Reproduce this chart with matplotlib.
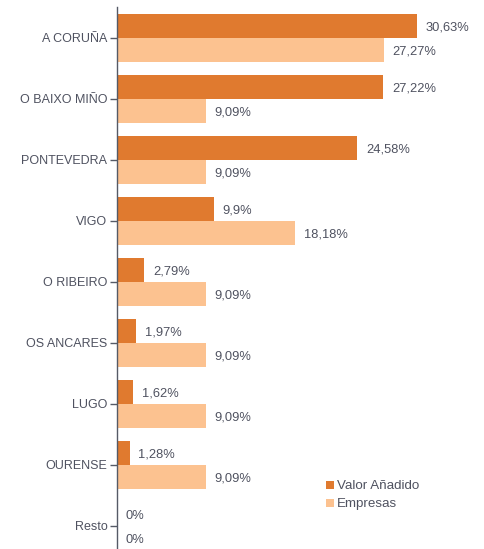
import matplotlib.pyplot as plt
import numpy as np

# Data
categories = ['A CORUÑA', 'O BAIXO MIÑO', 'PONTEVEDRA', 'VIGO', 'O RIBEIRO',
              'OS ANCARES', 'LUGO', 'OURENSE', 'Resto']
valor_anadido = [30.63, 27.22, 24.58, 9.9, 2.79, 1.97, 1.62, 1.28, 0]
empresas = [27.27, 9.09, 9.09, 18.18, 9.09, 9.09, 9.09, 9.09, 0]

dark_color = '#E07A2F'
light_color = '#FCC290'
text_color = '#4F5260'

plt.rcParams['font.family'] = ['Liberation Sans', 'DejaVu Sans']

def fmt(v):
    s = f"{v:.2f}".rstrip('0').rstrip('.')
    return s.replace('.', ',') + '%'

fig = plt.figure(figsize=(4.85, 5.49), dpi=100)
W, H = 485, 549
ax = fig.add_axes([117 / W, 1 - 556.5 / H, (W - 117) / W, 549 / H])

y = np.arange(len(categories))
h = 0.395
bars_v = ax.barh(y - h / 2, valor_anadido, h, color=dark_color, label='Valor Añadido')
bars_e = ax.barh(y + h / 2, empresas, h, color=light_color, label='Empresas')

for bars, vals in [(bars_v, valor_anadido), (bars_e, empresas)]:
    for bar, v in zip(bars, vals):
        ax.text(bar.get_width() + 0.9, bar.get_y() + bar.get_height() / 2 + 0.03, fmt(v),
                ha='left', va='center', fontsize=9.3, color=text_color)

ax.set_xlim(0, (W - 117) / 9.78)
ax.set_ylim(len(categories) - 0.5, -0.5)
ax.set_yticks(y)
ax.set_yticklabels(categories, fontsize=9, color=text_color)
ax.tick_params(axis='y', length=5, width=1, color='#555a66', pad=2)
ax.set_xticks([])
for side in ['top', 'right', 'bottom']:
    ax.spines[side].set_visible(False)
ax.spines['left'].set_color('#555a66')
ax.spines['left'].set_linewidth(1)

fig.legend(loc='upper left', bbox_to_anchor=(321 / W, 1 - 475 / H), frameon=False,
           fontsize=9.6, handlelength=0.55, handleheight=0.55, handletextpad=0.25,
           labelspacing=0.45, labelcolor=text_color, borderaxespad=0)

fig.savefig('out.png', dpi=100)
